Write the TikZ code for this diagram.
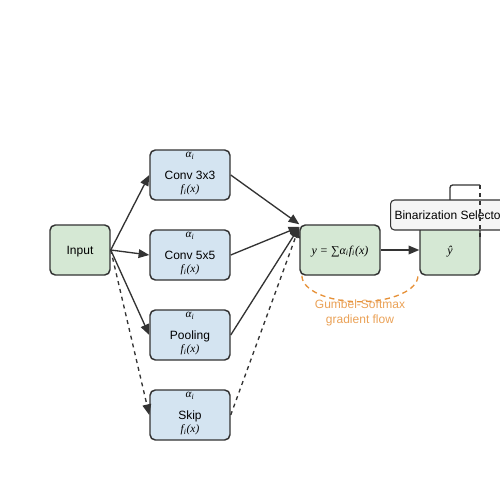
\documentclass[tikz,border=0pt]{standalone}
\usepackage{fontspec}
\setmainfont{Liberation Sans}
\newfontfamily\serif{Liberation Serif}
\usetikzlibrary{arrows.meta}

\definecolor{opblue}{HTML}{D4E4F1}
\definecolor{nodegreen}{HTML}{D5E8D4}
\definecolor{edgegray}{HTML}{333333}
\definecolor{selgray}{HTML}{F5F5F5}
\definecolor{gumbel}{HTML}{E69138}

\tikzset{
	box/.style={draw=edgegray, line width=1.1pt, rounded corners=4pt, minimum height=37.5pt,
		inner sep=2pt, text height=6.5pt, text depth=0pt, font=\fontsize{9}{11}\selectfont},
	greenbox/.style={box, fill=nodegreen, minimum width=45pt},
	bluebox/.style={box, fill=opblue, minimum width=60pt},
	lab/.style={inner sep=0pt, font=\fontsize{8.5}{10}\serif\itshape},
	arr/.style={draw=edgegray, line width=1pt, -{Triangle[length=8pt,width=6.5pt]}},
	gumbelline/.style={draw=gumbel, line width=1pt, dash pattern=on 4pt off 3pt}
}

\begin{document}
\begin{tikzpicture}[x=0.75pt,y=-0.75pt]
	\useasboundingbox (0,0) rectangle (500,500);
	% Eingang
	\node[greenbox] (input) at (80,250) {Input};
	% Kandidaten-Operationen
	\foreach \y/\name/\txt in {175/conv3/Conv 3x3, 255/conv5/Conv 5x5, 335/pool/Pooling, 415/skip/Skip}{
		\node[bluebox] (\name) at (190,\y) {\txt};
		\node[lab] (\name-a) at (190,\y-19) {α\textsubscript{i}};
		\node[lab] (\name-f) at (190,\y+15) {f\textsubscript{i}(x)};
	}
	% gewichtete Summe und Ausgabe
	\node[greenbox, minimum width=60pt, font=\fontsize{9}{11}\serif\itshape] (sum) at (340,250)
		{y = ∑α\textsubscript{i}f\textsubscript{i}(x)};
	\node[greenbox, font=\fontsize{9}{11}\serif\itshape] (yhat) at (450,250) {ŷ};
	\draw[arr] (input.east) -- (conv3.west);
	\draw[arr] (input.east) -- (conv5.west);
	\draw[arr] (input.east) -- (pool.west);
	\draw[arr, dashed] (input.east) -- (skip.west);
	\draw[arr] (conv3.east) -- (sum.north west);
	\draw[arr] (conv5.east) -- ([yshift=-2]sum.north west);
	\draw[arr] (pool.east) -- ([yshift=-2]sum.north west);
	\draw[arr, dashed] (skip.east) -- ([yshift=-2]sum.north west);
	\draw[arr] (sum.east) -- (yhat.west);
	% Schleife über der Ausgabe
	\coordinate (loop) at (480,185);
	\draw[draw=edgegray, line width=1pt, rounded corners=2pt] (yhat.north) |- (loop);
	\node[draw=edgegray, line width=0.8pt, fill=selgray, rounded corners=3pt, anchor=west,
		minimum height=22.5pt, inner xsep=3pt, text height=6.5pt, text depth=0pt,
		font=\fontsize{9}{11}\selectfont]
		(select) at (390,215) {Binarization Selector};
	\draw[draw=edgegray, line width=1pt, dashed] (loop) -- ++(0,53);
	% Gumbel-Softmax
	\draw[gumbelline] ([xshift=2]sum.south west) arc[start angle=180, end angle=0, x radius=58, y radius=26];
	\node[text=gumbel!85, align=center, font=\fontsize{9}{11.25}\selectfont] (glabel) at (360,313)
		{Gumbel-Softmax\\gradient flow};
\end{tikzpicture}
\end{document}
